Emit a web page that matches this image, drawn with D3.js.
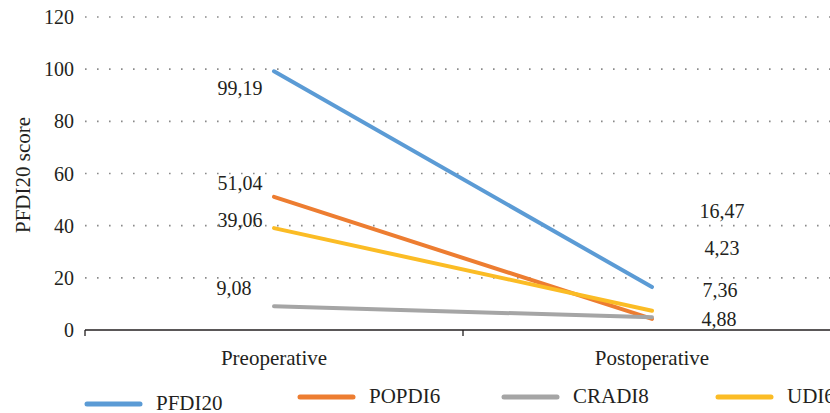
<!DOCTYPE html>
<html>
<head>
<meta charset="utf-8">
<script src="https://cdn.jsdelivr.net/npm/d3@7"></script>
<style>
  html, body { margin: 0; padding: 0; background: #fff; }
  svg { display: block; }
  text { font-family: "Liberation Serif", "Times New Roman", serif; fill: #231f20; }
</style>
</head>
<body>
<svg id="chart" width="830" height="413"></svg>
<script>
// ---- data ----
const categories = ["Preoperative", "Postoperative"];
const seriesNames = ["PFDI20", "POPDI6", "CRADI8", "UDI6"];
const pfdi20 = [99.19, 16.47];
const popdi6 = [51.04, 4.23];
const cradi8 = [9.08, 4.88];
const udi6 = [39.06, 7.36];
const yTicks = [0, 20, 40, 60, 80, 100, 120];
const yTitle = "PFDI20 score";

// ---- layout / style (not data) ----
const colors = ["#5b9bd5", "#ed7d31", "#a5a5a5", "#fbbc25"];
// label offsets (dx, dy) relative to each point, [pre, post]
const labelOffsets = [
  [[-34, 17], [70, -76]],
  [[-34, -14], [70, -71]],
  [[-40, -18], [67, 2]],
  [[-34, -8], [68, -21]]
];

const values = [pfdi20, popdi6, cradi8, udi6];
const svg = d3.select("#chart");
const fmt = v => d3.format(".2f")(v).replace(".", ",");

const x = d3.scaleBand().domain(categories).range([85, 841]).padding(0);
const xc = c => x(c) + x.bandwidth() / 2;
const y = d3.scaleLinear().domain([0, 120]).range([330, 17]);

// gridlines
svg.append("g").selectAll("line").data(yTicks.filter(t => t > 0)).join("line")
  .attr("x1", 85).attr("x2", 830)
  .attr("y1", d => y(d)).attr("y2", d => y(d))
  .attr("stroke", "#8a8a8a").attr("stroke-width", 1.6)
  .attr("stroke-dasharray", "1.6,10.4");

// y tick labels
svg.append("g").selectAll("text").data(yTicks).join("text")
  .attr("x", 74).attr("y", d => y(d))
  .attr("text-anchor", "end").attr("dominant-baseline", "central")
  .attr("font-size", 20)
  .text(d => d);

// y title
svg.append("text")
  .attr("transform", "translate(23,175) rotate(-90)")
  .attr("text-anchor", "middle").attr("dominant-baseline", "central")
  .attr("font-size", 21)
  .text(yTitle);

// x axis
const xAxis = d3.axisBottom(x).tickSize(0).tickFormat("");
const gx = svg.append("g").attr("transform", `translate(0,${y(0)})`).call(xAxis);
gx.select(".domain").attr("stroke", "#231f20").attr("stroke-width", 1.3).attr("d", "M85,0H841");
const bounds = [x.range()[0], ...categories.map(c => x(c) + x.bandwidth())];
gx.selectAll(".bt").data(bounds).join("line").attr("class", "bt")
  .attr("x1", d => d).attr("x2", d => d).attr("y1", 0).attr("y2", 6)
  .attr("stroke", "#231f20").attr("stroke-width", 1.3);

svg.append("g").selectAll("text").data(categories).join("text")
  .attr("x", d => xc(d)).attr("y", 358)
  .attr("text-anchor", "middle").attr("dominant-baseline", "central")
  .attr("font-size", 21)
  .text(d => d);

// lines
const line = d3.line().x((d, i) => xc(categories[i])).y(d => y(d));
svg.append("g").selectAll("path").data(values).join("path")
  .attr("d", d => line(d))
  .attr("fill", "none")
  .attr("stroke", (d, i) => colors[i])
  .attr("stroke-width", 4)
  .attr("stroke-linecap", "round");

// data labels
values.forEach((vals, si) => {
  vals.forEach((v, ci) => {
    const [dx, dy] = labelOffsets[si][ci];
    svg.append("text")
      .attr("x", xc(categories[ci]) + dx)
      .attr("y", y(v) + dy)
      .attr("text-anchor", "middle").attr("dominant-baseline", "central")
      .attr("font-size", 20)
      .text(fmt(v));
  });
});

// legend
const legendX = [85, 298, 502, 716];
const legendY = [404, 397, 397, 397];
const lg = svg.append("g").selectAll("g").data(seriesNames).join("g")
  .attr("transform", (d, i) => `translate(${legendX[i]},${legendY[i]})`);
lg.append("line").attr("x1", 2).attr("x2", 55).attr("y1", 0).attr("y2", 0)
  .attr("stroke", (d, i) => colors[i]).attr("stroke-width", 5).attr("stroke-linecap", "round");
lg.append("text").attr("x", 71).attr("y", -1)
  .attr("dominant-baseline", "central").attr("font-size", 21)
  .text(d => d);
</script>
</body>
</html>
